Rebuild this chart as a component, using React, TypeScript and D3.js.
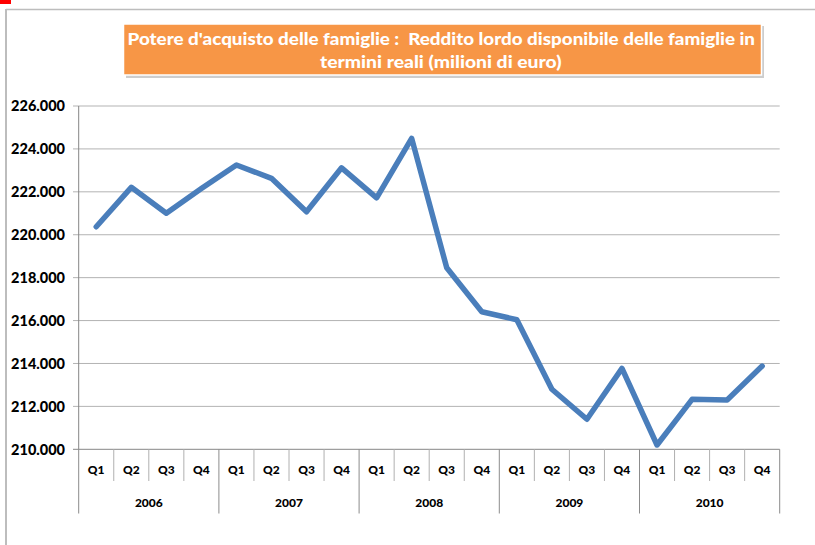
import React from "react";
import * as d3 from "d3";

const years: string[] = ["2006", "2007", "2008", "2009", "2010"];
const quarters: string[] = ["Q1", "Q2", "Q3", "Q4"];
const values: number[] = [
  220.37, 222.21, 221.0, 222.15,
  223.25, 222.63, 221.07, 223.12,
  221.72, 224.49, 218.46, 216.41,
  216.04, 212.8, 211.4, 213.77,
  210.2, 212.33, 212.3, 213.88,
];
const yTicks: number[] = [210, 212, 214, 216, 218, 220, 222, 224, 226];
const titleLines: string[] = [
  "Potere d'acquisto delle famiglie :  Reddito lordo disponibile delle famiglie in",
  "termini reali (milioni di euro)",
];

const W = 815;
const H = 545;
const plotLeft = 78.7;
const plotRight = 779.7;
const plotTop = 106;
const plotBottom = 449.3;

export default function App() {
  const cats = years.flatMap((y) => quarters.map((q) => `${y}-${q}`));
  const x = d3.scaleBand<string>().domain(cats).range([plotLeft, plotRight]).padding(0);
  const y = d3.scaleLinear().domain([210, 226]).range([plotBottom, plotTop]);
  const line = d3
    .line<number>()
    .x((_, i) => (x(cats[i]) as number) + x.bandwidth() / 2)
    .y((d) => y(d));
  const fmt = (v: number) => `${v}.000`;
  const font = "Lato, 'Open Sans', sans-serif";

  return (
    <div style={{ position: "absolute", left: 0, top: 0, width: W, height: H, background: "#fff" }}>
      <svg width={W} height={H} style={{ display: "block" }}>
        <rect x={0} y={0} width={W} height={H} fill="#fff" />
        {/* red mark */}
        <rect x={0} y={0} width={11} height={4} fill="#ff0000" />
        {/* outer border */}
        <line x1={6} y1={9.5} x2={W} y2={9.5} stroke="#bdbdbd" strokeWidth={1.5} />
        <line x1={6} y1={9} x2={6} y2={H} stroke="#bdbdbd" strokeWidth={2} />

        {/* title box */}
        <rect x={126} y={26} width={638} height={52} fill="#b8b8b8" opacity={0.7} />
        <rect x={123.5} y={24} width={638} height={51} fill="#f79646" stroke="#ffffff" strokeWidth={1.5} />
        <text x={127.5} y={45} fill="#fff" fontFamily={font} fontWeight={900} fontSize={17.5}
          textLength={627.5} lengthAdjust="spacingAndGlyphs" style={{ whiteSpace: "pre" }}>
          {titleLines[0]}
        </text>
        <text x={320} y={67.5} fill="#fff" fontFamily={font} fontWeight={900} fontSize={17.5}
          textLength={241.5} lengthAdjust="spacingAndGlyphs">
          {titleLines[1]}
        </text>

        {/* gridlines + y ticks */}
        {yTicks.map((t) => (
          <g key={t}>
            <line x1={73} x2={plotRight} y1={y(t)} y2={y(t)} stroke={t === 210 ? "#868686" : "#b3b3b3"} strokeWidth={1} />
            <text x={65} y={y(t)} dy="0.36em" textAnchor="end" fontFamily={font} fontWeight={900} fontSize={14.5} fill="#000">
              {fmt(t)}
            </text>
          </g>
        ))}
        {/* y axis */}
        <line x1={plotLeft} x2={plotLeft} y1={plotTop} y2={plotBottom} stroke="#868686" strokeWidth={1} />

        {/* x axis categories */}
        {cats.map((c, i) => {
          const x0 = x(c) as number;
          const isYearStart = i % 4 === 0;
          return (
            <g key={c}>
              <line x1={x0} x2={x0} y1={plotBottom} y2={isYearStart ? 513.5 : 481} stroke={isYearStart ? "#8c8c8c" : "#b0b0b0"} strokeWidth={1} />
              <text x={x0 + x.bandwidth() / 2} y={470} dy="0.36em" textAnchor="middle" fontFamily={font} fontWeight={900} fontSize={12} fill="#000">
                {quarters[i % 4]}
              </text>
            </g>
          );
        })}
        <line x1={plotRight} x2={plotRight} y1={plotBottom} y2={513.5} stroke="#8c8c8c" strokeWidth={1} />
        {years.map((yr, j) => {
          const x0 = x(cats[j * 4]) as number;
          return (
            <text key={yr} x={x0 + x.bandwidth() * 2} y={502.5} dy="0.36em" textAnchor="middle" fontFamily={font} fontWeight={900} fontSize={12} fill="#000">
              {yr}
            </text>
          );
        })}

        {/* data line */}
        <path d={line(values) || ""} fill="none" stroke="#4a7ebb" strokeWidth={5.5} strokeLinejoin="round" strokeLinecap="round" />
      </svg>
    </div>
  );
}
